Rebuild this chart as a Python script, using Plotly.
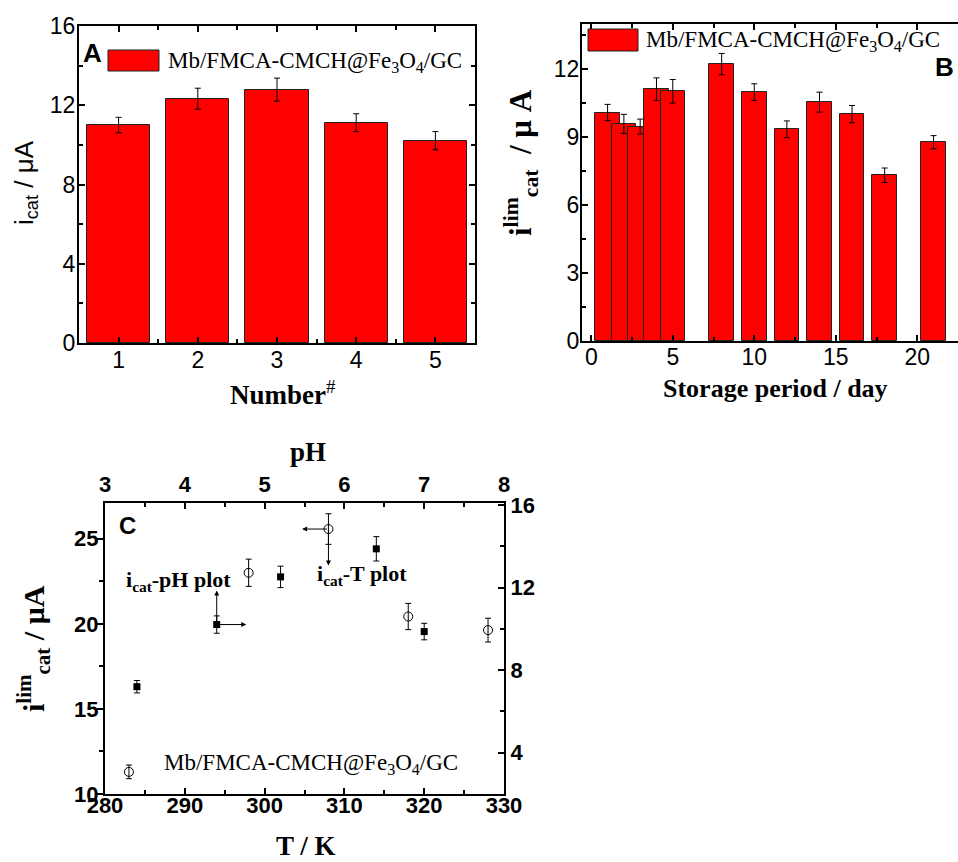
import plotly.graph_objects as go

# ---------------- data ----------------
numbers = [1, 2, 3, 4, 5]
icat_A = [11.0, 12.33, 12.79, 11.12, 10.21]
err_A = [0.39, 0.53, 0.58, 0.45, 0.46]

days = [1, 2, 3, 4, 5, 8, 10, 12, 14, 16, 18, 21]
icat_B = [10.09, 9.59, 9.47, 11.12, 11.03, 12.23, 10.99, 9.35, 10.55, 10.02, 7.32, 8.78]
err_B = [0.36, 0.42, 0.33, 0.50, 0.52, 0.47, 0.37, 0.37, 0.44, 0.38, 0.32, 0.29]

temps = [283, 298, 308, 318, 328]
icat_T = [11.3, 23.0, 25.57, 20.43, 19.63]
err_T = [0.40, 0.80, 0.90, 0.77, 0.70]

pH_vals = [3.4, 4.4, 5.2, 6.4, 7.0]
icat_pH = [7.2, 10.21, 12.52, 13.88, 9.87]
err_pH = [0.30, 0.42, 0.52, 0.59, 0.40]

legend_label = "Mb/FMCA-CMCH@Fe<sub>3</sub>O<sub>4</sub>/GC"

# ---------------- style ----------------
W, H = 958, 862
SANS = "Liberation Sans, Arial, sans-serif"
SERIF = "Liberation Serif, Times New Roman, serif"
RED = "#ff0000"


def px(x):
    return x / W


def py(y):
    return 1 - y / H


fig = go.Figure()

# Panel A
fig.add_trace(go.Bar(
    x=numbers, y=icat_A, width=0.8, xaxis="x", yaxis="y",
    marker=dict(color=RED, line=dict(color="#222222", width=1)),
    error_y=dict(type="data", array=err_A, color="black", thickness=1, width=3),
    showlegend=False,
))

# Panel B
fig.add_trace(go.Bar(
    x=days, y=icat_B, width=1.5, xaxis="x2", yaxis="y2",
    marker=dict(color=RED, line=dict(color="#222222", width=1)),
    error_y=dict(type="data", array=err_B, color="black", thickness=1, width=3),
    showlegend=False,
))

# Panel C: T plot (open circles, bottom/left)
fig.add_trace(go.Scatter(
    x=temps, y=icat_T, mode="markers", xaxis="x3", yaxis="y3",
    marker=dict(symbol="circle-open", size=9, color="black", line=dict(width=1)),
    error_y=dict(type="data", array=err_T, color="black", thickness=1, width=3),
    showlegend=False,
))
# Panel C: pH plot (filled squares, top/right)
fig.add_trace(go.Scatter(
    x=pH_vals, y=icat_pH, mode="markers", xaxis="x4", yaxis="y4",
    marker=dict(symbol="square", size=7, color="black"),
    error_y=dict(type="data", array=err_pH, color="black", thickness=1, width=3),
    showlegend=False,
))

axis_common = dict(showline=True, linecolor="black", linewidth=2, showgrid=False,
                   zeroline=False, ticklen=6, tickwidth=1.5, tickcolor="black",
                   automargin=False)

TF = dict(family=SANS, size=23, color="black")
TFB = dict(family=SANS, size=22, color="black", weight="bold")

fig.update_layout(
    template="none",
    width=W, height=H,
    margin=dict(l=0, r=0, t=0, b=0, autoexpand=False),
    paper_bgcolor="white", plot_bgcolor="white",
    bargap=0,
    # A
    xaxis=dict(domain=[px(79), px(475)], range=[0.5, 5.5], anchor="y",
               tickvals=numbers, ticks="inside", mirror="ticks", ticklabelstandoff=-5,
               minor=dict(ticks="inside", ticklen=4, tickvals=[1.5, 2.5, 3.5, 4.5], tickcolor="black"),
               tickfont=TF, **axis_common),
    yaxis=dict(domain=[py(343), py(26)], range=[0, 16], anchor="x",
               dtick=4, ticks="inside", mirror="ticks", ticklabelstandoff=-3,
               minor=dict(ticks="inside", ticklen=4, dtick=2, tickcolor="black"),
               tickfont=TF, **axis_common),
    # B
    xaxis2=dict(domain=[px(582), 1.0], range=[-0.57, 22.5], anchor="y2",
                dtick=5, ticks="inside", mirror="ticks", ticklabelstandoff=-6,
                minor=dict(ticks="inside", ticklen=4, dtick=2.5, tickcolor="black"),
                tickfont=TF, **axis_common),
    yaxis2=dict(domain=[py(341), py(24)], range=[0, 14], anchor="x2",
                dtick=3, ticks="inside", mirror=False, ticklabelstandoff=-4,
                minor=dict(ticks="inside", ticklen=4, dtick=1.5, tickcolor="black"),
                tickfont=TF, **axis_common),
    # C bottom / left
    xaxis3=dict(domain=[px(105), px(504)], range=[280, 330], anchor="y3",
                dtick=10, ticks="inside", mirror=False, ticklabelstandoff=-9,
                minor=dict(ticks="inside", ticklen=4, dtick=5, tickcolor="black"),
                tickfont=TFB, **axis_common),
    yaxis3=dict(domain=[py(794), py(503)], range=[10, 27.1], anchor="x3",
                dtick=5, ticks="outside", mirror=False, ticklabelstandoff=-6,
                minor=dict(ticks="outside", ticklen=4, dtick=2.5, tickcolor="black"),
                tickfont=TFB, **axis_common),
    # C top / right
    xaxis4=dict(overlaying="x3", side="top", range=[3, 8], anchor="y3",
                dtick=1, ticks="inside",
                minor=dict(ticks="inside", ticklen=4, dtick=0.5, tickcolor="black"),
                tickfont=TFB, **axis_common),
    yaxis4=dict(overlaying="y3", side="right", range=[2, 16.1], anchor="x3",
                dtick=4, ticks="inside",
                minor=dict(ticks="inside", ticklen=4, dtick=2, tickcolor="black"),
                tickfont=TFB, **axis_common),
)

# legend boxes (A and B)
for (x0, x1, y0, y1) in [(108, 159, 50, 71), (588, 638, 29, 51)]:
    fig.add_shape(type="rect", xref="paper", yref="paper",
                  x0=px(x0), x1=px(x1), y0=py(y1), y1=py(y0),
                  fillcolor=RED, line=dict(color="#222222", width=1))

ann = []


def text(x, y, s, size, family, xanchor="left", yanchor="middle", angle=0, color="black"):
    ann.append(dict(x=px(x), y=py(y), xref="paper", yref="paper", text=s, showarrow=False,
                    xanchor=xanchor, yanchor=yanchor, textangle=angle,
                    font=dict(size=size, family=family, color=color)))


# legend texts
text(166, 62, legend_label, 23, SERIF)
text(644, 41, legend_label, 23, SERIF)
# panel letters
text(81, 53, "<b>A</b>", 26, SANS)
text(933, 67, "<b>B</b>", 26, SANS)
text(117, 525, "<b>C</b>", 24, SANS)
# axis titles A
text(25, 183, "i<sub>cat</sub> / μA", 26, SANS, xanchor="center", angle=-90)
text(283, 393, "<b>Number</b><sup>#</sup>", 27, SERIF, xanchor="center")
# axis titles B
text(521, 163, "<b>i<sup>lim</sup><sub>cat</sub>  / μ A</b>", 31, SERIF, xanchor="center", angle=-90)
text(775, 388, "<b>Storage period / day</b>", 26, SERIF, xanchor="center")
# axis titles C
text(308, 452, "<b>pH</b>", 27, SERIF, xanchor="center")
text(306, 846, "<b>T / K</b>", 27, SERIF, xanchor="center")
text(33, 649, "<b>i<sup>lim</sup><sub>cat</sub> / μA</b>", 30, SERIF, xanchor="center", angle=-90)
# C annotations
text(124, 581, "<b>i<sub>cat</sub>-pH plot</b>", 22, SERIF)
text(315, 575, "<b>i<sub>cat</sub>-T plot</b>", 22, SERIF)
text(162, 764, legend_label, 23, SERIF)

# arrows in C pointing to the relevant axes
sq_x, sq_y = pH_vals[1], icat_pH[1]
ci_x, ci_y = temps[2], icat_T[2]
arrow_defs = [
    ("x4", "y4", sq_x, sq_y + 1.65, sq_x, sq_y),
    ("x4", "y4", sq_x + 0.37, sq_y, sq_x, sq_y),
    ("x3", "y3", ci_x - 3.3, ci_y, ci_x, ci_y),
    ("x3", "y3", ci_x, ci_y - 2.15, ci_x, ci_y),
]
for xr, yr, hx, hy, tx, ty in arrow_defs:
    ann.append(dict(x=hx, y=hy, ax=tx, ay=ty, xref=xr, yref=yr, axref=xr, ayref=yr,
                    text="", showarrow=True, arrowhead=2, arrowsize=1, arrowwidth=1,
                    arrowcolor="black"))

fig.update_layout(annotations=ann)

fig.write_html("out.html", config={"displayModeBar": False},
               post_script="document.body.style.margin='0';document.body.style.overflow='hidden';")
